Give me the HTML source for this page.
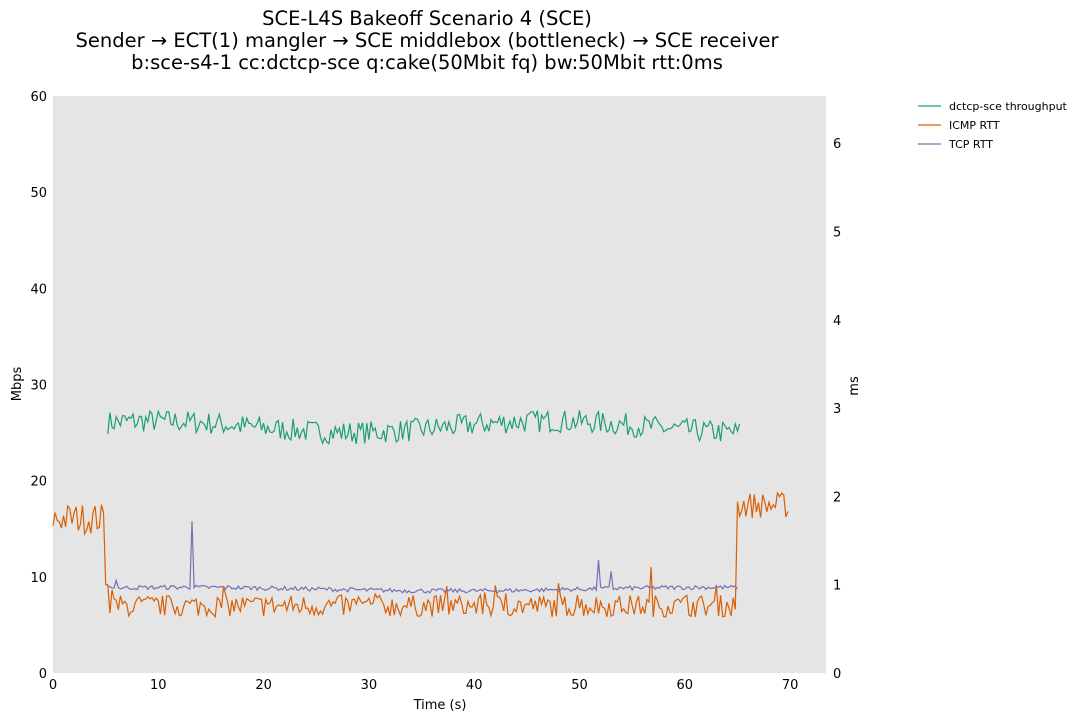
<!DOCTYPE html>
<html><head><meta charset="utf-8"><style>
body{margin:0;background:#fff;}
svg{font-family:"DejaVu Sans","Liberation Sans",sans-serif;}
</style></head><body>
<svg id="s" width="1088" height="721" xmlns="http://www.w3.org/2000/svg">
<rect x="0" y="0" width="1088" height="721" fill="#fff"/>
<text x="427" y="25" font-size="19.5" text-anchor="middle">SCE-L4S Bakeoff Scenario 4 (SCE)</text>
<text x="427" y="47" font-size="19.5" text-anchor="middle">Sender → ECT(1) mangler → SCE middlebox (bottleneck) → SCE receiver</text>
<text x="427" y="69" font-size="19.5" text-anchor="middle">b:sce-s4-1 cc:dctcp-sce q:cake(50Mbit fq) bw:50Mbit rtt:0ms</text>
<rect x="53" y="96" width="773" height="577" fill="#e5e5e5"/>
<g id="ax" font-size="13"></g>
<text x="21" y="384" font-size="13" text-anchor="middle" transform="rotate(-90 21 384)">Mbps</text>
<text x="858" y="386" font-size="13" text-anchor="middle" transform="rotate(-90 858 386)">ms</text>
<text x="440" y="709" font-size="13" text-anchor="middle">Time (s)</text>
<g id="d" fill="none" stroke-width="1.2"></g>
<g font-size="11">
<line x1="918" y1="106" x2="941" y2="106" stroke="#1b9e77" stroke-width="1.2"/><text x="949" y="110">dctcp-sce throughput</text>
<line x1="918" y1="125" x2="941" y2="125" stroke="#d95f02" stroke-width="1.2"/><text x="949" y="129">ICMP RTT</text>
<line x1="918" y1="144" x2="941" y2="144" stroke="#7570b3" stroke-width="1.2"/><text x="949" y="148">TCP RTT</text>
</g>
</svg>
<script>
var ns="http://www.w3.org/2000/svg",ax=document.getElementById("ax"),d=document.getElementById("d");
function el(p,t,a,tx){var e=document.createElementNS(ns,t);for(var k in a)e.setAttribute(k,a[k]);if(tx!=null)e.textContent=tx;p.appendChild(e);return e;}
for(var i=0;i<=6;i++){var y=673-i*96.17;el(ax,"text",{x:47,y:y+5,"text-anchor":"end"},i*10);}
for(var i=0;i<=6;i++){var y=673-i*88.3;el(ax,"text",{x:833,y:y+5},i);}
for(var i=0;i<=70;i+=10){var x=53+i*10.53;el(ax,"text",{x:x,y:689,"text-anchor":"middle"},i);}
var seed=7;function r(){seed=(seed*16807)%2147483647;return seed/2147483647;}
function X(t){return 53+t*10.53}
function poly(pts,c){el(d,"polyline",{points:pts.join(" "),stroke:c});}
var p=[];for(var t=5.2;t<=65.3;t+=0.2){var b=25.6+0.6*Math.sin(t/6);p.push(X(t).toFixed(1)+","+(673-(b+(r()-0.5)*2.4)*9.617).toFixed(1));}
poly(p,"#1b9e77");
p=[];for(var t=0;t<=70;t+=0.2){var v;
if(t<5)v=1.75+(r()-0.5)*0.35;else if(t<5.3)v=1.0;else if(t<65)v=0.76+(r()-0.5)*0.25+(r()<0.03?0.15:0);else v=1.9+(r()-0.5)*0.3;
if(Math.abs(t-56.8)<0.1)v=1.2;
p.push(X(t).toFixed(1)+","+(673-v*88.3).toFixed(1));}
poly(p,"#d95f02");
p=[];for(var t=5.2;t<=65.1;t+=0.2){var v=t<5.6?0.98:0.95+(r()-0.5)*0.05+0.02*Math.sin(t/8);
if(Math.abs(t-13.2)<0.1)v=1.72;if(Math.abs(t-51.8)<0.1)v=1.28;if(Math.abs(t-53.0)<0.1)v=1.15;if(Math.abs(t-6.0)<0.1)v=1.05;
p.push(X(t).toFixed(1)+","+(673-v*88.3).toFixed(1));}
poly(p,"#7570b3");
</script>
</body></html>
